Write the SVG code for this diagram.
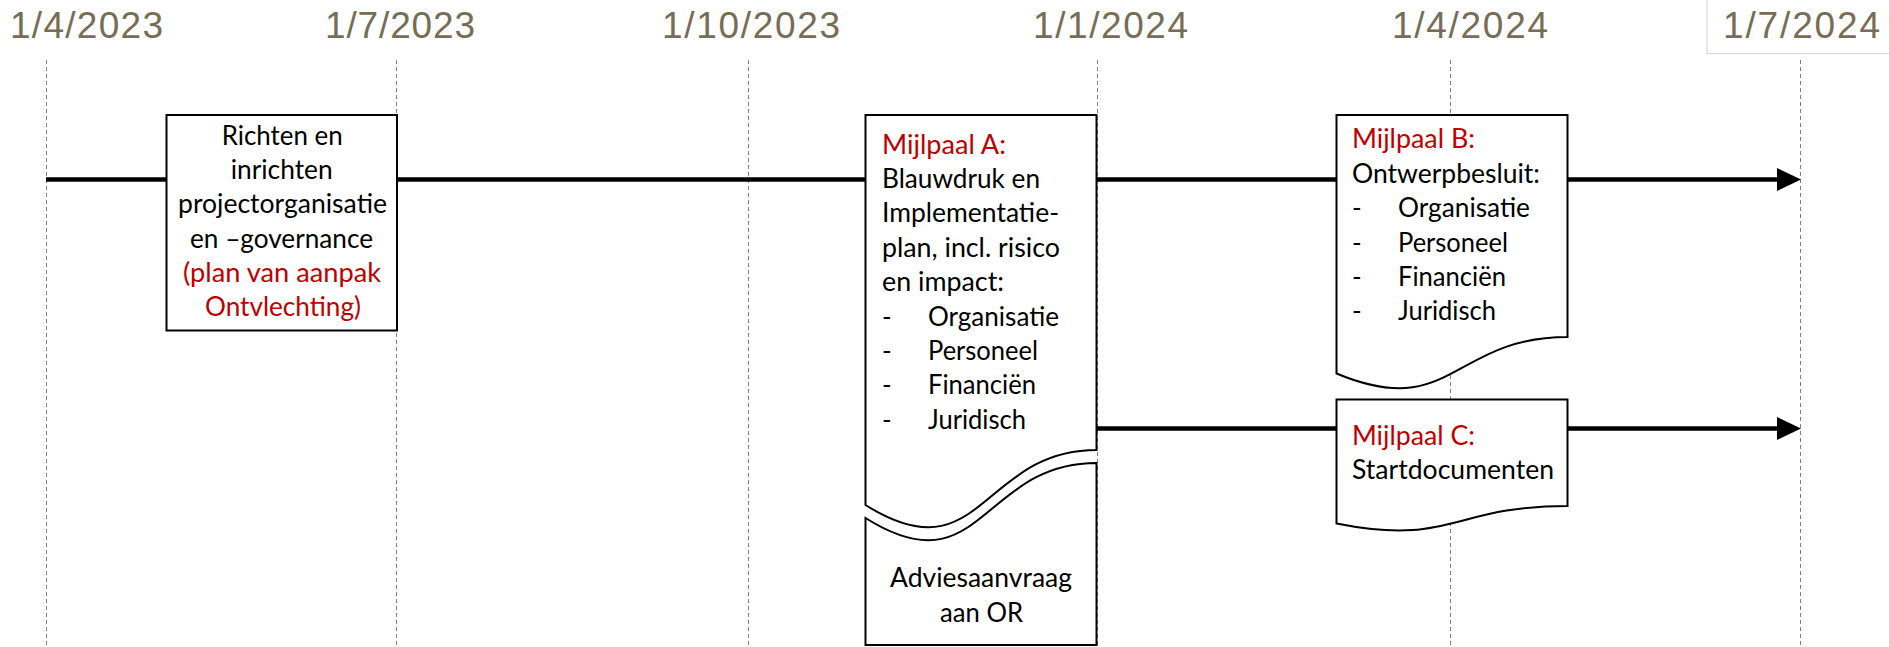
<svg xmlns="http://www.w3.org/2000/svg" width="1889" height="647" viewBox="0 0 1889 647">
<defs>
<style>
.date{font-family:"Liberation Sans",Arial,sans-serif;font-size:37px;fill:#776C55}
.grid{stroke:#808080;stroke-width:1;stroke-dasharray:4 3;fill:none}
.conn{stroke:#000;stroke-width:4.5;fill:none}
.box{fill:#fff;stroke:#000;stroke-width:2}
.t{font-family:Lato,"Open Sans",sans-serif;font-size:26px;fill:#000}
.r{fill:#C00000}
</style>
<marker id="arr" markerUnits="userSpaceOnUse" markerWidth="24" markerHeight="24" viewBox="0 0 24 24" refX="2" refY="12" orient="auto">
<path d="M0,0.5 L24,12 L0,23.5 Z" fill="#000"/>
</marker>
</defs>
<rect width="1889" height="647" fill="#fff"/>
<g id="timeline-labels">
<rect x="1707" y="-5" width="200" height="58.5" fill="#fff" stroke="#D9D9D9" stroke-width="1.2"/>
<text class="date" x="10" y="38.3" textLength="153">1/4/2023</text>
<text class="date" x="325" y="38.3" textLength="150">1/7/2023</text>
<text class="date" x="662" y="38.3" textLength="178">1/10/2023</text>
<text class="date" x="1033" y="38.3" textLength="155">1/1/2024</text>
<text class="date" x="1392" y="38.3" textLength="156">1/4/2024</text>
<text class="date" x="1723" y="38.3" textLength="157">1/7/2024</text>
</g>
<g id="gridlines">
<line class="grid" x1="46.5" y1="60" x2="46.5" y2="647"/>
<line class="grid" x1="396.5" y1="60" x2="396.5" y2="647"/>
<line class="grid" x1="748.5" y1="60" x2="748.5" y2="647"/>
<line class="grid" x1="1097.5" y1="60" x2="1097.5" y2="647"/>
<line class="grid" x1="1450.5" y1="60" x2="1450.5" y2="647"/>
<line class="grid" x1="1800.5" y1="60" x2="1800.5" y2="647"/>
</g>
<g id="connectors">
<line class="conn" x1="46" y1="179.5" x2="1779" y2="179.5" marker-end="url(#arr)"/>
<line class="conn" x1="1097" y1="428.5" x2="1779" y2="428.5" marker-end="url(#arr)"/>
</g>
<g id="node-richten">
<rect class="box" x="166.5" y="115" width="230.5" height="215.5"/>
<text class="t" x="221.7" y="145" textLength="121" lengthAdjust="spacingAndGlyphs">Richten en</text>
<text class="t" x="230.7" y="179.2" textLength="102" lengthAdjust="spacingAndGlyphs">inrichten</text>
<text class="t" x="178" y="213.4" textLength="209" lengthAdjust="spacingAndGlyphs">projectorganisatie</text>
<text class="t" x="190" y="247.6" textLength="183" lengthAdjust="spacingAndGlyphs">en –governance</text>
<text class="t r" x="183" y="281.8" textLength="198" lengthAdjust="spacingAndGlyphs">(plan van aanpak</text>
<text class="t r" x="205" y="316" textLength="156" lengthAdjust="spacingAndGlyphs">Ontvlechting)</text>
</g>
<g id="node-mijlpaal-a">
<path class="box" d="M865.5,115 H1096.5 V450 C981,450 981,577.6 865.5,505 Z"/>
<text class="t r" x="882" y="153.5" textLength="124" lengthAdjust="spacingAndGlyphs">Mijlpaal A:</text>
<text class="t" x="882" y="187.9" textLength="158" lengthAdjust="spacingAndGlyphs">Blauwdruk en</text>
<text class="t" x="882" y="222.3" textLength="177" lengthAdjust="spacingAndGlyphs">Implementatie-</text>
<text class="t" x="882" y="256.7" textLength="178" lengthAdjust="spacingAndGlyphs">plan, incl. risico</text>
<text class="t" x="882" y="291.1" textLength="122" lengthAdjust="spacingAndGlyphs">en impact:</text>
<text class="t" x="882" y="325.5">-</text>
<text class="t" x="928" y="325.5" textLength="131" lengthAdjust="spacingAndGlyphs">Organisatie</text>
<text class="t" x="882" y="359.9">-</text>
<text class="t" x="928" y="359.9" textLength="110" lengthAdjust="spacingAndGlyphs">Personeel</text>
<text class="t" x="882" y="394.3">-</text>
<text class="t" x="928" y="394.3" textLength="108" lengthAdjust="spacingAndGlyphs">Financiën</text>
<text class="t" x="882" y="428.7">-</text>
<text class="t" x="928" y="428.7" textLength="98" lengthAdjust="spacingAndGlyphs">Juridisch</text>
</g>
<g id="node-advies">
<path class="box" d="M865.5,518 C981,590.6 981,463 1096.5,463 V645 H865.5 Z"/>
<text class="t" x="890" y="587" textLength="182" lengthAdjust="spacingAndGlyphs">Adviesaanvraag</text>
<text class="t" x="940" y="622" textLength="83" lengthAdjust="spacingAndGlyphs">aan OR</text>
</g>
<g id="node-mijlpaal-b">
<path class="box" d="M1336.5,115 H1567.5 V337 C1452,337 1452,421.6 1336.5,373.5 Z"/>
<text class="t r" x="1352" y="148.3" textLength="123" lengthAdjust="spacingAndGlyphs">Mijlpaal B:</text>
<text class="t" x="1352" y="182.7" textLength="188" lengthAdjust="spacingAndGlyphs">Ontwerpbesluit:</text>
<text class="t" x="1352" y="217.1">-</text>
<text class="t" x="1398" y="217.1" textLength="132" lengthAdjust="spacingAndGlyphs">Organisatie</text>
<text class="t" x="1352" y="251.5">-</text>
<text class="t" x="1398" y="251.5" textLength="110" lengthAdjust="spacingAndGlyphs">Personeel</text>
<text class="t" x="1352" y="285.9">-</text>
<text class="t" x="1398" y="285.9" textLength="108" lengthAdjust="spacingAndGlyphs">Financiën</text>
<text class="t" x="1352" y="320.3">-</text>
<text class="t" x="1398" y="320.3" textLength="98" lengthAdjust="spacingAndGlyphs">Juridisch</text>
</g>
<g id="node-mijlpaal-c">
<path class="box" d="M1336.5,399.5 H1567.5 V506 C1452,506 1452,546.5 1336.5,523.5 Z"/>
<text class="t r" x="1352" y="445" textLength="123" lengthAdjust="spacingAndGlyphs">Mijlpaal C:</text>
<text class="t" x="1352" y="479.3" textLength="202" lengthAdjust="spacingAndGlyphs">Startdocumenten</text>
</g>
</svg>
